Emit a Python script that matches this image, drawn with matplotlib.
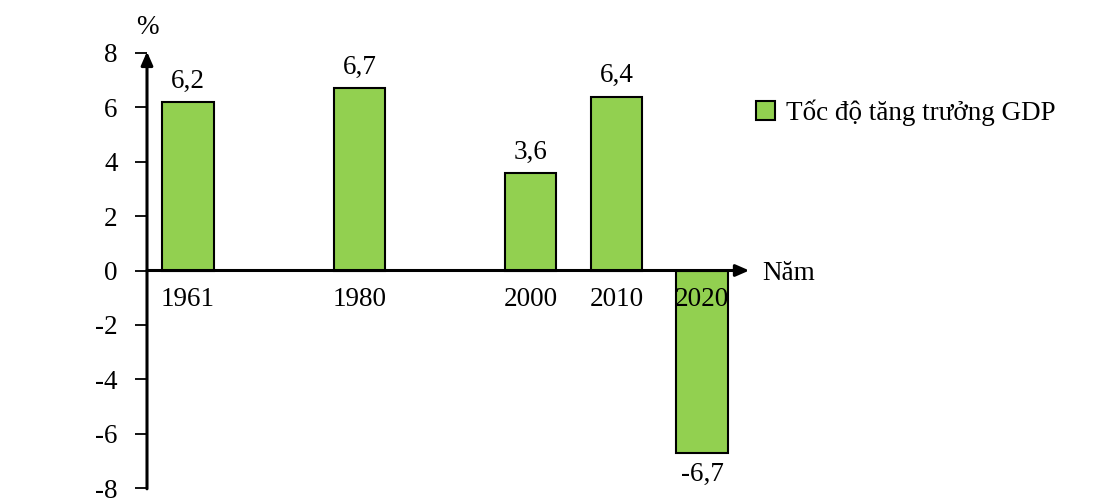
import matplotlib
matplotlib.use("Agg")
import matplotlib.pyplot as plt
from matplotlib.patches import Patch

years = [1961, 1980, 2000, 2010, 2020]
growth = [6.2, 6.7, 3.6, 6.4, -6.7]
value_labels = ["6,2", "6,7", "3,6", "6,4", "-6,7"]
yticks = [8, 6, 4, 2, 0, -2, -4, -6, -8]
legend_label = "Tốc độ tăng trưởng GDP"

plt.rcParams['font.family'] = ['Liberation Serif', 'DejaVu Serif']
FS = 19.5
green = "#92D050"

fig = plt.figure(figsize=(11.14, 5.0), dpi=100)
W, H = 1114, 500
x_left, x_right = 147, 745
y_top, y_bot = 53, 488
ax = fig.add_axes([x_left / W, 1 - y_bot / H, (x_right - x_left) / W, (y_bot - y_top) / H])

# decade slots
slots = [round((y - 1960) / 10) for y in years]

ax.bar(slots, growth, width=0.6, color=green, edgecolor="black", linewidth=1.5, zorder=2)

ax.set_xlim(-0.478, 6.5)
ax.set_ylim(-8, 8)

for s in ["top", "right", "bottom", "left"]:
    ax.spines[s].set_visible(False)

ax.set_xticks([])
ax.set_yticks(yticks)
ax.set_yticklabels([str(v) for v in yticks], fontsize=FS)
ax.tick_params(axis="y", direction="out", length=9, width=1.3, pad=12, colors="black")

# y axis with arrow
ax.annotate("", xy=(-0.478, 8.05), xytext=(-0.478, -8.03), xycoords="data",
            arrowprops=dict(arrowstyle="-|>,head_length=0.8,head_width=0.35", color="black", lw=2.2,
                            shrinkA=0, shrinkB=0), annotation_clip=False, zorder=3)
# x axis with arrow
ax.annotate("", xy=(6.55, 0), xytext=(-0.478, 0), xycoords="data",
            arrowprops=dict(arrowstyle="-|>,head_length=0.8,head_width=0.35", color="black", lw=2.2,
                            shrinkA=0, shrinkB=0), annotation_clip=False, zorder=3)

# category labels
for s, yr in zip(slots, years):
    ax.text(s, -0.6, str(yr), ha="center", va="top", fontsize=FS, zorder=5)

# value labels
for s, v, lab in zip(slots, growth, value_labels):
    if v >= 0:
        ax.text(s, v + 0.3, lab, ha="center", va="bottom", fontsize=FS, zorder=5)
    else:
        ax.text(s, v - 0.35, lab, ha="center", va="top", fontsize=FS, zorder=5)

fig.text(147 / W, 1 - 27 / H, "%", ha="center", va="center", fontsize=FS)
fig.text(762 / W, 1 - 273 / H, "Năm", ha="left", va="center", fontsize=FS)

fig.legend(handles=[Patch(facecolor=green, edgecolor="black", linewidth=1.5)], labels=[legend_label],
           loc="center left", bbox_to_anchor=(756 / W, 1 - 113 / H), frameon=False,
           handlelength=0.7, handleheight=0.7, handletextpad=0.4, borderpad=0, borderaxespad=0,
           fontsize=FS)

fig.savefig("out.png", dpi=100)
